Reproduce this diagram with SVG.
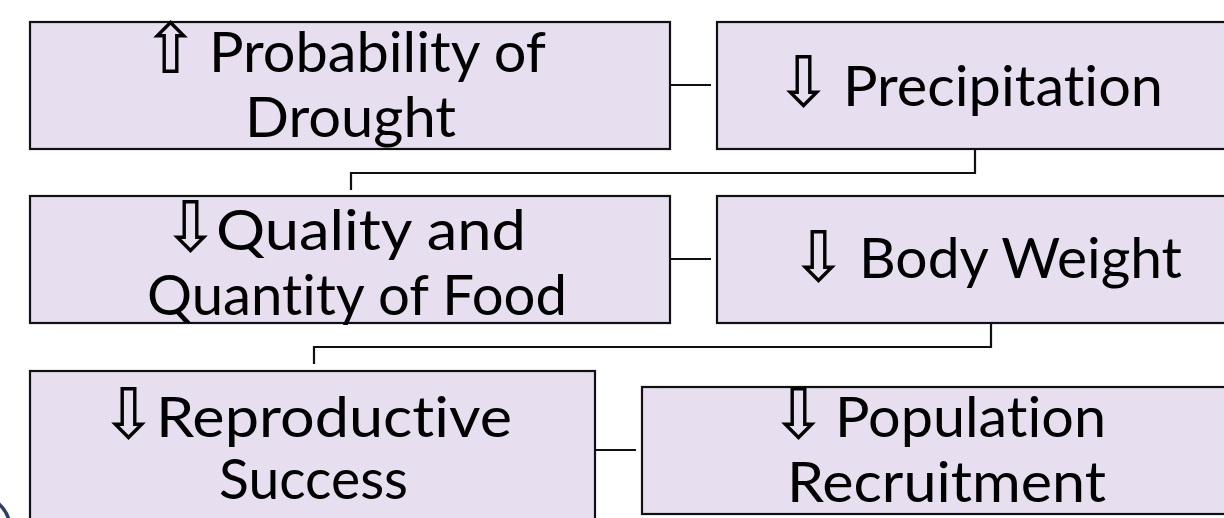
<svg xmlns="http://www.w3.org/2000/svg" width="1224" height="518" viewBox="0 0 1224 518">
<style>
.box{fill:#E7DEF0;stroke:#111;stroke-width:2.2}
.lbl{font-family:Lato,"Open Sans","Noto Sans",sans-serif;font-size:56px;fill:#000;font-variant-ligatures:none;font-feature-settings:"liga" 0,"clig" 0}
.arr{font-family:"DejaVu Sans",sans-serif;font-size:70px;fill:#000}
.con{fill:none;stroke:#111;stroke-width:2.2}
</style>
<rect width="1224" height="518" fill="#fff"/>
<path d="M -2 503 Q 6 510 9 520" fill="none" stroke="#2E3F6B" stroke-width="3.5"/>
<g id="connectors">
<path class="con" d="M 670 85 H 711"/>
<path class="con" d="M 975 149 V 173 H 351 V 190"/>
<path class="con" d="M 670 259 H 711"/>
<path class="con" d="M 991 323 V 347 H 314 V 364"/>
<path class="con" d="M 595 450 H 636"/>
</g>
<g id="node-drought">
<rect class="box" x="30" y="22" width="640" height="127"/>
<text class="arr" x="141" y="72.5">⇧</text>
<text class="lbl" x="209" y="72" textLength="337" lengthAdjust="spacingAndGlyphs">Probability of</text>
<text class="lbl" x="245" y="137" textLength="211" lengthAdjust="spacingAndGlyphs">Drought</text>
</g>
<g id="node-precipitation">
<rect class="box" x="717" y="22" width="520" height="127"/>
<text class="arr" x="774" y="106">⇩</text>
<text class="lbl" x="843" y="106" textLength="320" lengthAdjust="spacingAndGlyphs">Precipitation</text>
</g>
<g id="node-food">
<rect class="box" x="30" y="196" width="640" height="127"/>
<text class="arr" x="161" y="251">⇩</text>
<text class="lbl" x="216" y="250" textLength="310" lengthAdjust="spacingAndGlyphs">Quality and</text>
<text class="lbl" x="147" y="315" textLength="420" lengthAdjust="spacingAndGlyphs">Quantity of Food</text>
</g>
<g id="node-bodyweight">
<rect class="box" x="717" y="196" width="520" height="127"/>
<text class="arr" x="789" y="281">⇩</text>
<text class="lbl" x="859" y="278" textLength="323" lengthAdjust="spacingAndGlyphs">Body Weight</text>
</g>
<g id="node-reproductive">
<rect class="box" x="30" y="371" width="565" height="170"/>
<text class="arr" x="99" y="438">⇩</text>
<text class="lbl" x="156" y="437" textLength="356" lengthAdjust="spacingAndGlyphs">Reproductive</text>
<text class="lbl" x="219" y="499" textLength="189" lengthAdjust="spacingAndGlyphs">Success</text>
</g>
<g id="node-recruitment">
<rect class="box" x="642" y="387" width="600" height="127"/>
<text class="arr" x="769" y="438">⇩</text>
<text class="lbl" x="835" y="437" textLength="271" lengthAdjust="spacingAndGlyphs">Population</text>
<text class="lbl" x="787" y="502" textLength="319" lengthAdjust="spacingAndGlyphs">Recruitment</text>
</g>
</svg>
